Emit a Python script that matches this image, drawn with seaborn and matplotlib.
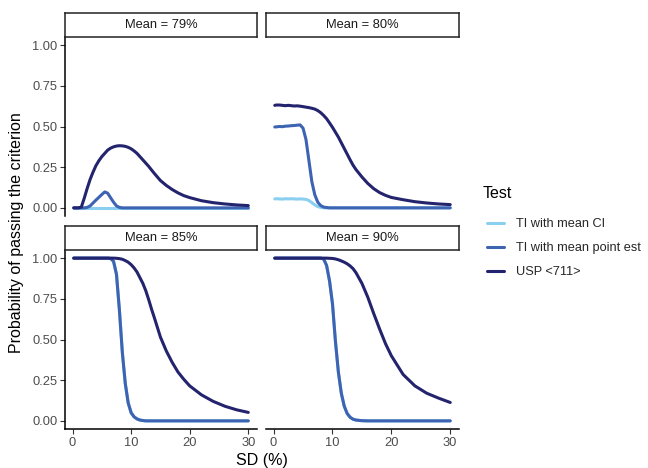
import numpy as np
import pandas as pd
import matplotlib
matplotlib.use("Agg")
import matplotlib.pyplot as plt
import seaborn as sns
from matplotlib.lines import Line2D

# ---------------- data ----------------
sd = [0.2, 0.5, 1, 1.5, 2, 2.5, 3, 3.5, 4, 4.5, 5, 5.5, 6, 6.5, 7, 7.5, 8, 8.5, 9, 9.5,
      10, 10.5, 11, 11.5, 12, 12.5, 13, 13.5, 14, 15, 16, 17, 18, 19, 20, 22, 24, 26, 28, 30]

tests = ["TI with mean CI", "TI with mean point est", "USP <711>"]
panels = ["Mean = 79%", "Mean = 80%", "Mean = 85%", "Mean = 90%"]

m79_ci = [0] * 40
m79_pt = [0, 0, 0, 0, 0, 0.003, 0.012, 0.03, 0.048, 0.065, 0.082, 0.098, 0.09, 0.062, 0.035,
          0.012, 0.003, 0, 0, 0, 0, 0, 0, 0, 0, 0, 0, 0, 0, 0, 0, 0, 0, 0, 0, 0, 0, 0, 0, 0]
m79_usp = [0, 0, 0, 0.005, 0.06, 0.12, 0.175, 0.22, 0.26, 0.29, 0.315, 0.335, 0.355, 0.367,
           0.375, 0.38, 0.382, 0.381, 0.378, 0.372, 0.363, 0.35, 0.335, 0.315, 0.295, 0.275,
           0.255, 0.232, 0.21, 0.168, 0.138, 0.113, 0.092, 0.075, 0.063, 0.044, 0.032, 0.024,
           0.018, 0.014]

m80_ci = [0.055, 0.056, 0.055, 0.054, 0.056, 0.055, 0.056, 0.055, 0.054, 0.055, 0.054, 0.052,
          0.045, 0.032, 0.018, 0.008, 0.003, 0, 0, 0, 0, 0, 0, 0, 0, 0, 0, 0, 0, 0, 0, 0, 0, 0,
          0, 0, 0, 0, 0, 0]
m80_pt = [0.497, 0.498, 0.5, 0.499, 0.502, 0.503, 0.505, 0.506, 0.508, 0.51, 0.49, 0.42, 0.29,
          0.16, 0.08, 0.035, 0.014, 0.005, 0.002, 0, 0, 0, 0, 0, 0, 0, 0, 0, 0, 0, 0, 0, 0, 0,
          0, 0, 0, 0, 0, 0]
m80_usp = [0.63, 0.632, 0.632, 0.63, 0.628, 0.63, 0.628, 0.626, 0.627, 0.625, 0.622, 0.619,
           0.616, 0.612, 0.607, 0.598, 0.585, 0.568, 0.548, 0.522, 0.495, 0.465, 0.435, 0.4,
           0.365, 0.33, 0.295, 0.262, 0.235, 0.19, 0.15, 0.118, 0.094, 0.077, 0.064, 0.05,
           0.038, 0.03, 0.024, 0.02]

m85_ci = [1, 1, 1, 1, 1, 1, 1, 1, 1, 1, 1, 1, 1, 0.998, 0.98, 0.9, 0.68, 0.42, 0.23, 0.11,
          0.05, 0.025, 0.012, 0.005, 0.002, 0, 0, 0, 0, 0, 0, 0, 0, 0, 0, 0, 0, 0, 0, 0]
m85_pt = [1, 1, 1, 1, 1, 1, 1, 1, 1, 1, 1, 1, 1, 0.998, 0.98, 0.9, 0.68, 0.42, 0.23, 0.11,
          0.05, 0.025, 0.012, 0.005, 0.002, 0, 0, 0, 0, 0, 0, 0, 0, 0, 0, 0, 0, 0, 0, 0]
m85_usp = [1, 1, 1, 1, 1, 1, 1, 1, 1, 1, 1, 1, 1, 1, 1, 0.999, 0.997, 0.993, 0.985, 0.975,
           0.96, 0.94, 0.915, 0.88, 0.845, 0.8, 0.745, 0.685, 0.63, 0.515, 0.43, 0.36, 0.3,
           0.255, 0.215, 0.16, 0.12, 0.09, 0.068, 0.052]

m90_ci = [1, 1, 1, 1, 1, 1, 1, 1, 1, 1, 1, 1, 1, 1, 1, 1, 1, 0.995, 0.955, 0.86, 0.72, 0.49,
          0.3, 0.17, 0.09, 0.045, 0.022, 0.01, 0.005, 0.001, 0, 0, 0, 0, 0, 0, 0, 0, 0, 0]
m90_pt = [1, 1, 1, 1, 1, 1, 1, 1, 1, 1, 1, 1, 1, 1, 1, 1, 1, 0.995, 0.955, 0.86, 0.72, 0.49,
          0.3, 0.17, 0.09, 0.045, 0.022, 0.01, 0.005, 0.001, 0, 0, 0, 0, 0, 0, 0, 0, 0, 0]
m90_usp = [1, 1, 1, 1, 1, 1, 1, 1, 1, 1, 1, 1, 1, 1, 1, 1, 1, 1, 1, 0.999, 0.998, 0.995, 0.99,
           0.983, 0.975, 0.965, 0.952, 0.935, 0.91, 0.845, 0.76, 0.66, 0.565, 0.475, 0.4,
           0.285, 0.215, 0.17, 0.14, 0.113]

series = {
    "Mean = 79%": [m79_ci, m79_pt, m79_usp],
    "Mean = 80%": [m80_ci, m80_pt, m80_usp],
    "Mean = 85%": [m85_ci, m85_pt, m85_usp],
    "Mean = 90%": [m90_ci, m90_pt, m90_usp],
}

rows = []
for p in panels:
    for t, vals in zip(tests, series[p]):
        for x, y in zip(sd, vals):
            rows.append({"panel": p, "Test": t, "SD": x, "P": y})
df = pd.DataFrame(rows)

colors = {"TI with mean CI": "#8ACEF0",
          "TI with mean point est": "#3D63B3",
          "USP <711>": "#23236E"}

# ---------------- figure ----------------
sns.set_theme(style="ticks")
plt.rcParams["font.family"] = ["Liberation Sans", "DejaVu Sans"]

W, H = 648, 468
fig = plt.figure(figsize=(W / 100, H / 100), dpi=100)

def frac(x0, y0, x1, y1):
    return [x0 / W, 1 - y1 / H, (x1 - x0) / W, (y1 - y0) / H]

col_x = [(65, 257), (266, 459)]
row_y = [(37, 216), (250, 429)]
strip_y = [(13, 37), (226, 250)]

for i, p in enumerate(panels):
    r, c = divmod(i, 2)
    ax = fig.add_axes(frac(col_x[c][0], row_y[r][0], col_x[c][1], row_y[r][1]))
    sub = df[df["panel"] == p]
    sns.lineplot(data=sub, x="SD", y="P", hue="Test", hue_order=tests, palette=colors,
                 estimator=None, sort=False, linewidth=2.2, legend=False, ax=ax)
    ax.set_xlim(-1.29, 31.49)
    ax.set_ylim(-0.05, 1.05)
    ax.set_xticks([0, 10, 20, 30])
    ax.set_yticks([0, 0.25, 0.5, 0.75, 1.0])
    ax.set_yticklabels(["0.00", "0.25", "0.50", "0.75", "1.00"])
    ax.set_xlabel("")
    ax.set_ylabel("")
    for s in ["top", "right"]:
        ax.spines[s].set_visible(False)
    ax.spines["left"].set_visible(c == 0)
    ax.spines["bottom"].set_visible(r == 1)
    for s in ["left", "bottom"]:
        ax.spines[s].set_linewidth(1.1)
        ax.spines[s].set_color("black")
    ax.tick_params(axis="y", left=(c == 0), labelleft=(c == 0), length=3.5, width=0.8,
                   color="#333333", labelsize=9.3, labelcolor="#4D4D4D", pad=2)
    ax.tick_params(axis="x", bottom=(r == 1), labelbottom=(r == 1), length=3.5, width=0.8,
                   color="#333333", labelsize=9.3, labelcolor="#4D4D4D", pad=2)
    ax.set_facecolor("white")

    sax = fig.add_axes(frac(col_x[c][0], strip_y[r][0], col_x[c][1], strip_y[r][1]))
    sax.set_xticks([])
    sax.set_yticks([])
    for s in sax.spines.values():
        s.set_visible(True)
        s.set_linewidth(1.1)
        s.set_color("#222222")
    sax.text(0.5, 0.5, p, ha="center", va="center", fontsize=9.3, color="#1A1A1A",
             transform=sax.transAxes)

fig.text(262 / W, 1 - 460 / H, "SD (%)", ha="center", va="center", fontsize=11.5,
         color="black")
fig.text(17 / W, 1 - 233 / H, "Probability of passing the criterion", ha="center",
         va="center", rotation=90, fontsize=11.5, color="black")

fig.text(483 / W, 1 - 193 / H, "Test", ha="left", va="center", fontsize=11.5,
         color="black")
handles = [Line2D([0], [0], color=colors[t], lw=2.2) for t in tests]
leg = fig.legend(handles, tests, loc="upper left", bbox_to_anchor=(487 / W, 1 - 218 / H),
                 frameon=False, fontsize=9.2, handlelength=1.3, handletextpad=1.0,
                 labelspacing=0.95, borderpad=0, borderaxespad=0)

fig.savefig("out.png", dpi=100, facecolor="white")
